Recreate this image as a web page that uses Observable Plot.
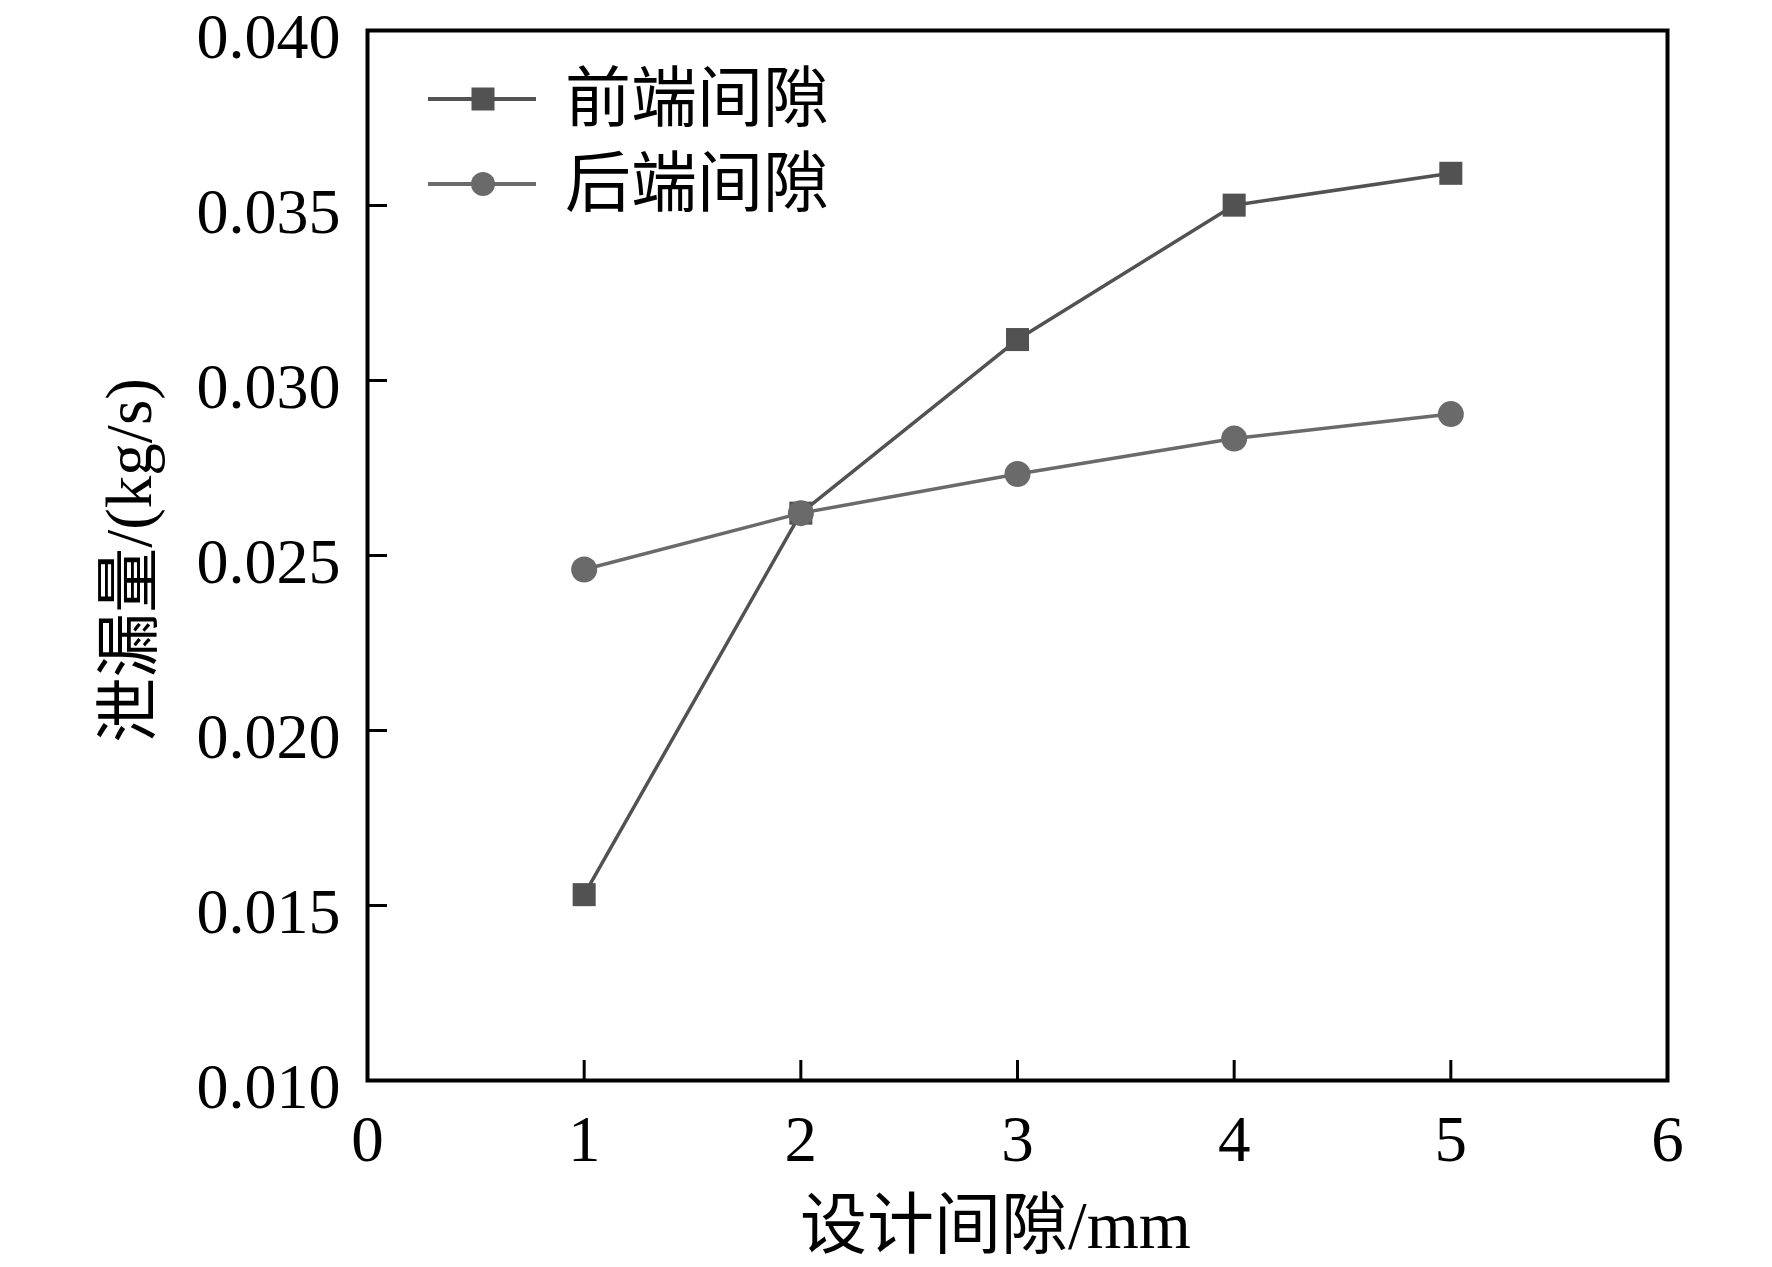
<!DOCTYPE html>
<html><head><meta charset="utf-8">
<script src="https://cdn.jsdelivr.net/npm/d3@7"></script>
<script src="https://cdn.jsdelivr.net/npm/@observablehq/plot@0.6"></script>
<style>
html,body{margin:0;padding:0;background:#fff;}
#wrap{position:relative;width:1772px;height:1267px;}
#legend{position:absolute;left:0;top:0;pointer-events:none;}
</style></head><body><div id="wrap"></div>
<script>
const gaps = [1, 2, 3, 4, 5];
const frontLeak = [0.01531, 0.02621, 0.03117, 0.03501, 0.03592];
const rearLeak = [0.02460, 0.02621, 0.02733, 0.02834, 0.02904];
const seriesNames = ["前端间隙", "后端间隙"];
const xTicks = [0, 1, 2, 3, 4, 5, 6];
const yTicks = [0.010, 0.015, 0.020, 0.025, 0.030, 0.035, 0.040];
const xLabel = "设计间隙/mm";
const yLabel = "泄漏量/(kg/s)";

const front = gaps.map((g, i) => ({gap: g, leak: frontLeak[i]}));
const rear = gaps.map((g, i) => ({gap: g, leak: rearLeak[i]}));

const W = 1772, H = 1267, mL = 367, mR = 105, mT = 30, mB = 187;
const pw = W - mL - mR, ph = H - mT - mB;
const font = '"Liberation Serif","Times New Roman","Noto Sans CJK SC",serif';
const c1 = "#525252", c2 = "#6a6a6a";

const plot = Plot.plot({
  width: W, height: H,
  marginLeft: mL, marginRight: mR, marginTop: mT, marginBottom: mB,
  style: {fontFamily: font, background: "white", color: "black", overflow: "visible"},
  x: {domain: [0, 6]},
  y: {domain: [0.010, 0.040]},
  marks: [
    Plot.axisX(xTicks, {tickSize: 0, tickPadding: 34, fontSize: 65, label: null, tickFormat: d => String(d)}),
    Plot.axisY(yTicks, {tickSize: 0, tickPadding: 27, fontSize: 64, dy: 7, label: null, tickFormat: d3.format(".3f")}),
    Plot.tickX(xTicks, {x: d => d, insetTop: ph - 20, stroke: "black", strokeWidth: 3}),
    Plot.tickY(yTicks, {y: d => d, insetRight: pw - 20, stroke: "black", strokeWidth: 3}),
    Plot.line(front, {x: "gap", y: "leak", stroke: c1, strokeWidth: 3.5}),
    Plot.line(rear, {x: "gap", y: "leak", stroke: c2, strokeWidth: 3.5}),
    Plot.dot(front, {x: "gap", y: "leak", symbol: "square", r: 13, fill: c1}),
    Plot.dot(rear, {x: "gap", y: "leak", symbol: "circle", r: 13, fill: c2}),
    Plot.frame({stroke: "black", strokeWidth: 4}),
    Plot.text([xLabel], {frameAnchor: "bottom", textAnchor: "middle", lineAnchor: "middle", dy: 146, dx: -22, fontSize: 67, fill: "black"}),
    Plot.text([yLabel], {frameAnchor: "left", textAnchor: "middle", lineAnchor: "middle", rotate: -90, dx: -237, dy: 5, fontSize: 65, fill: "black"})
  ]
});
const wrap = document.getElementById("wrap");
wrap.appendChild(plot);

// legend overlay
const lg = d3.select(wrap).append("svg").attr("id", "legend").attr("width", W).attr("height", H);
const items = [
  {name: seriesNames[0], color: c1, sym: "square", y: 99},
  {name: seriesNames[1], color: c2, sym: "circle", y: 184}
];
items.forEach(it => {
  lg.append("line").attr("x1", 428).attr("x2", 536).attr("y1", it.y).attr("y2", it.y)
    .attr("stroke", it.color).attr("stroke-width", 4);
  if (it.sym === "square") {
    lg.append("rect").attr("x", 483 - 11.5).attr("y", it.y - 11.5).attr("width", 23).attr("height", 23).attr("fill", it.color);
  } else {
    lg.append("circle").attr("cx", 483).attr("cy", it.y).attr("r", 12).attr("fill", it.color);
  }
  lg.append("text").attr("x", 565).attr("y", it.y - 1).attr("dominant-baseline", "central")
    .attr("font-family", font).attr("font-size", 66).attr("fill", "black").text(it.name);
});
</script></body></html>
